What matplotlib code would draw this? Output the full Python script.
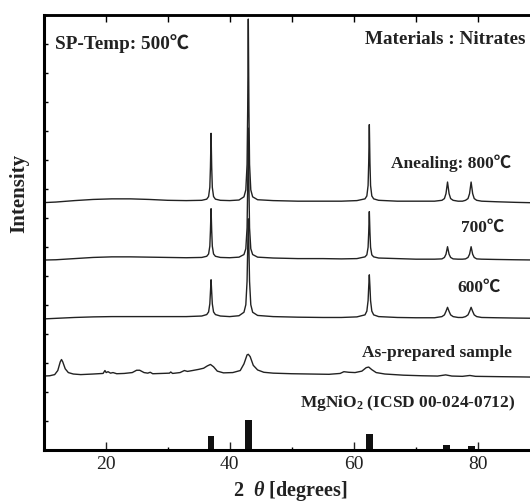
import matplotlib
matplotlib.use("Agg")
import matplotlib.pyplot as plt
from matplotlib.ticker import MultipleLocator

plt.rcParams['mathtext.fontset'] = 'custom'
plt.rcParams['mathtext.rm'] = 'Liberation Serif:bold'
plt.rcParams['mathtext.it'] = 'Liberation Serif:italic:bold'
plt.rcParams['mathtext.bf'] = 'Liberation Serif:bold'

# ---------------- data ----------------
two_theta_annealed = [10, 12, 15, 18, 21, 24, 27, 30, 33, 35.5,
                      36.3, 36.6, 36.8, 36.9, 37.0, 37.1, 37.2, 37.4, 37.7,
                      38.5, 40, 41.5,
                      42.3, 42.6, 42.8, 42.9, 43.0, 43.1, 43.2, 43.4, 43.7,
                      44.5, 47, 51, 55, 58, 60.5,
                      61.8, 62.1, 62.3, 62.4, 62.5, 62.6, 62.7, 62.9, 63.2,
                      64, 67, 70, 73,
                      74.2, 74.6, 74.85, 75.1, 75.35, 75.6, 76.0,
                      76.8, 77.5,
                      78.0, 78.4, 78.65, 78.9, 79.15, 79.4, 79.8,
                      80.6, 83, 86, 90]

intensity_800 = [-0.05, -0.03, 0.02, 0.06, 0.08, 0.08, 0.06, 0.03, 0.02, 0.03,
                 0.07, 0.16, 0.48, 1.18, 2.34, 1.18, 0.48, 0.16, 0.07,
                 0.03, 0.02, 0.04,
                 0.15, 0.39, 1.27, 3.15, 6.28, 3.15, 1.27, 0.39, 0.15,
                 0.05, 0.02, 0.0, 0.0, 0.0, 0.02,
                 0.08, 0.18, 0.54, 1.33, 2.64, 1.33, 0.54, 0.18, 0.08,
                 0.03, 0.0, 0.0, 0.0,
                 0.03, 0.09, 0.26, 0.66, 0.26, 0.09, 0.03,
                 0.0, 0.0,
                 0.03, 0.09, 0.26, 0.66, 0.26, 0.09, 0.03,
                 0.0, -0.02, -0.04, -0.06]

intensity_700 = [-0.05, -0.04, 0.0, 0.04, 0.06, 0.06, 0.05, 0.04, 0.03, 0.04,
                 0.08, 0.16, 0.43, 0.97, 1.72, 0.97, 0.43, 0.16, 0.08,
                 0.04, 0.03, 0.05,
                 0.14, 0.34, 1.06, 2.49, 4.50, 2.49, 1.06, 0.34, 0.14,
                 0.05, 0.02, 0.0, 0.0, -0.01, 0.0,
                 0.06, 0.13, 0.39, 0.90, 1.62, 0.90, 0.39, 0.13, 0.06,
                 0.02, 0.0, -0.02, -0.02,
                 -0.01, 0.04, 0.15, 0.41, 0.15, 0.04, -0.01,
                 -0.02, -0.02,
                 -0.01, 0.04, 0.15, 0.41, 0.15, 0.04, -0.01,
                 -0.02, -0.03, -0.04, -0.05]

intensity_600 = [-0.05, -0.03, 0.0, 0.02, 0.03, 0.03, 0.03, 0.03, 0.03, 0.05,
                 0.10, 0.19, 0.47, 0.88, 1.30, 0.88, 0.47, 0.19, 0.10,
                 0.05, 0.03, 0.06,
                 0.18, 0.44, 1.25, 2.36, 3.40, 2.36, 1.25, 0.44, 0.18,
                 0.07, 0.03, 0.01, 0.0, 0.0, 0.02,
                 0.09, 0.22, 0.58, 1.06, 1.47, 1.06, 0.58, 0.22, 0.09,
                 0.03, 0.0, -0.01, -0.01,
                 0.03, 0.09, 0.21, 0.35, 0.21, 0.09, 0.03,
                 0.0, 0.0,
                 0.03, 0.09, 0.21, 0.35, 0.21, 0.09, 0.03,
                 0.0, -0.01, -0.02, -0.03]

two_theta_asprep = [10, 11, 11.8, 12.3, 12.7, 12.9, 13.1, 13.5, 14, 14.8, 16, 18,
                    19.6, 19.9, 20.1, 20.4, 20.8, 21.2, 21.8, 23, 24.3, 25.0, 25.5,
                    26.2, 26.8, 27.2, 27.6, 29, 30.3, 30.5, 30.8, 32, 32.7, 33.2,
                    34, 35, 35.8, 36.4, 36.9, 37.4, 38, 39, 40.5, 41.7, 42.3, 42.8,
                    43.0, 43.3, 43.8, 44.5, 45.5, 47, 50, 53, 56, 57.8, 58.4, 59.2,
                    60.2, 61.3, 62.0, 62.4, 62.9, 63.6, 65, 68, 71, 73.5, 74.8,
                    75.8, 77.5, 78.7, 79.6, 83, 87, 90]
intensity_asprep = [-0.07, -0.06, -0.02, 0.12, 0.42, 0.50, 0.42, 0.18, 0.05, 0.0, -0.02, 0.0,
                    0.02, 0.12, 0.05, 0.08, 0.03, 0.05, 0.01, 0.02, 0.05, 0.13, 0.13,
                    0.05, 0.03, 0.06, 0.01, 0.02, 0.03, 0.07, 0.02, 0.05, 0.12, 0.09,
                    0.12, 0.16, 0.20, 0.28, 0.33, 0.25, 0.10, 0.04, 0.05, 0.12, 0.35, 0.66,
                    0.68, 0.60, 0.30, 0.14, 0.06, 0.03, 0.01, 0.0, -0.01, 0.02, 0.08, 0.06,
                    0.05, 0.10, 0.22, 0.24, 0.15, 0.05, 0.0, -0.04, -0.06, -0.07, -0.03,
                    -0.07, -0.08, -0.05, -0.08, -0.09, -0.10, -0.11]

ref_positions = [37.0, 43.0, 62.5, 74.9, 78.9]
ref_heights = [0.48, 1.03, 0.55, 0.17, 0.15]

curve_labels = ["Anealing: 800℃", "700℃", "600℃", "As-prepared sample"]
curve_offsets = [8.58, 6.60, 4.57, 2.62]

x_ticks_major = [20, 40, 60, 80]

# ---------------- figure ----------------
W, H = 530, 503
fig = plt.figure(figsize=(W / 100, H / 100), dpi=100)
ax_left, ax_right, ax_bot, ax_top = 43.5, 540, 450, 15
ax = fig.add_axes([ax_left / W, (H - ax_bot) / H,
                   (ax_right - ax_left) / W, (ax_bot - ax_top) / H])

serif = ['Liberation Serif', 'Noto Sans CJK JP', 'DejaVu Sans']
line_color = '#222222'
text_color = '#222222'

curves = [(two_theta_annealed, intensity_800),
          (two_theta_annealed, intensity_700),
          (two_theta_annealed, intensity_600),
          (two_theta_asprep, intensity_asprep)]
for (xs, ys), off in zip(curves, curve_offsets):
    ax.plot(xs, [v + off for v in ys], color=line_color, lw=1.0)

ax.bar(ref_positions, ref_heights, width=1.1, color='#111111', align='center')

ax.set_xlim(10, 90)
ax.set_ylim(0, 15)

# ticks
ax.xaxis.set_minor_locator(MultipleLocator(10))
ax.yaxis.set_major_locator(MultipleLocator(1))
ax.tick_params(axis='x', which='major', direction='in', length=6, width=1,
               pad=4, colors=text_color)
ax.tick_params(axis='x', which='minor', direction='in', length=2.5, width=1)
ax.tick_params(axis='y', which='major', direction='in', length=3, width=1,
               labelleft=False)
ax.set_xticks(x_ticks_major)
ax.set_xticklabels([str(t) for t in x_ticks_major], fontfamily=serif, fontsize=14)

sec = ax.secondary_xaxis('top')
sec.xaxis.set_major_locator(MultipleLocator(10))
sec.tick_params(axis='x', direction='in', length=5, width=1, labeltop=False)

for side in ['left', 'bottom']:
    ax.spines[side].set_linewidth(2.2)
ax.spines['top'].set_linewidth(1.8)
sec.spines['top'].set_linewidth(1.8)
ax.spines['right'].set_visible(False)

# annotations
txt_big = dict(fontfamily=serif, fontweight='bold', fontsize=13.8, color=text_color)
txt = dict(fontfamily=serif, fontweight='bold', fontsize=12.5, color=text_color)
ax.text(11.85, 14.0, "SP-Temp: 500℃", ha='left', va='center', **txt_big)
ax.text(87.7, 14.14, "Materials : Nitrates", ha='right', va='center', **txt_big)
label_pos = [(85.3, 9.9), (84.2, 7.66), (83.7, 5.59), (85.5, 3.34)]
for lab, (lx, ly) in zip(curve_labels, label_pos):
    ax.text(lx, ly, lab, ha='right', va='center', **txt)
ax.text(86.0, 1.62, "MgNiO$_{\\mathregular{2}}$ (ICSD 00-024-0712)", ha='right',
        va='center', **txt)

fig.text(19 / W, 1 - 193 / H, "Intensity", rotation=90, ha='center', va='center',
         fontfamily=serif, fontweight='bold', fontsize=15, color=text_color)
fig.text(290 / W, 1 - 491 / H, "2  $\\mathit{\\theta}$ [degrees]", ha='center',
         va='center', fontfamily=serif, fontweight='bold', fontsize=14.5,
         color=text_color)

fig.savefig("out.png", dpi=100)
